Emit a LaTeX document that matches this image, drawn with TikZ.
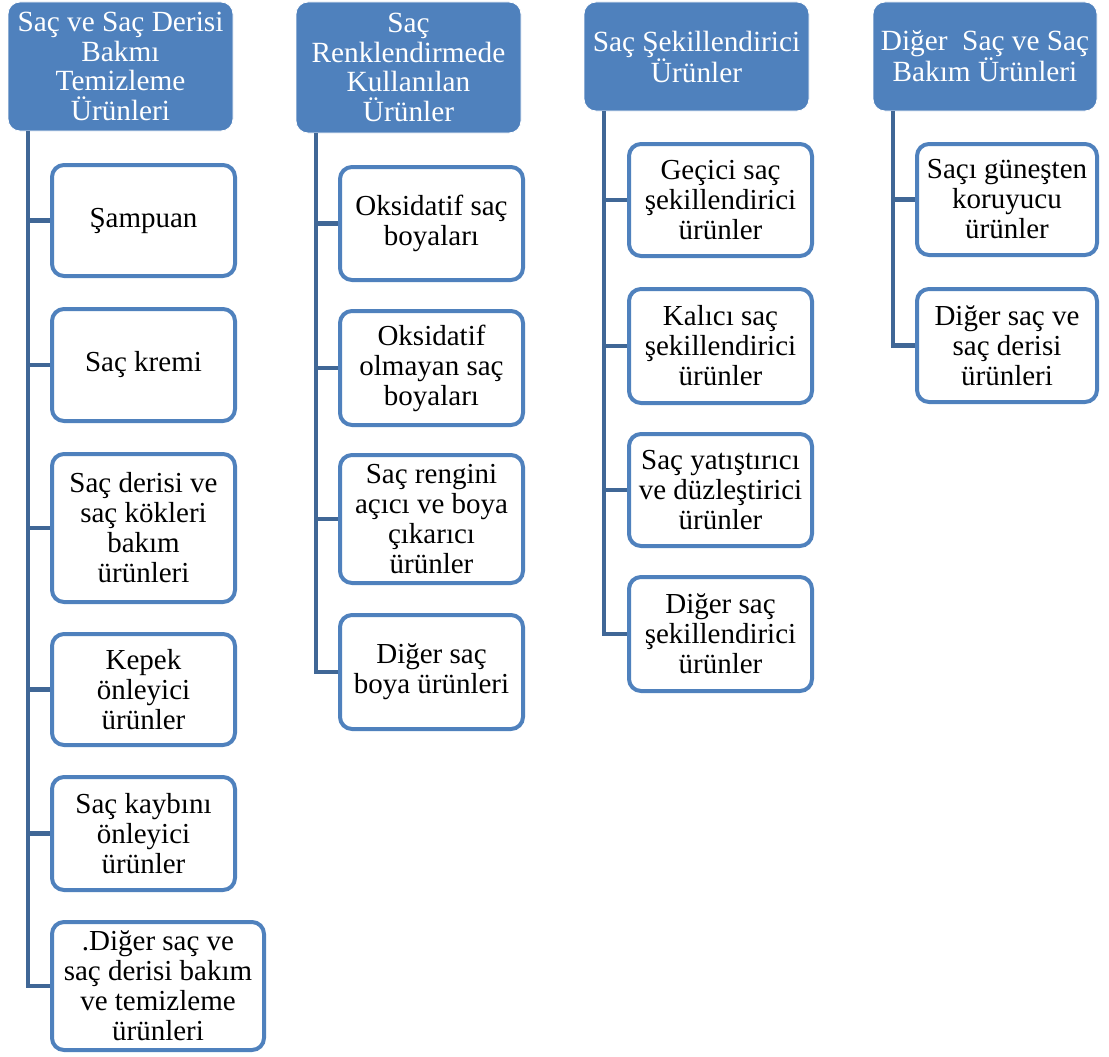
\documentclass[tikz,border=0pt]{standalone}
\usepackage{fontspec}
\setmainfont{Liberation Serif}
\definecolor{hdrblue}{RGB}{79,129,189}
\definecolor{bordblue}{RGB}{79,129,189}
\definecolor{connblue}{RGB}{64,103,150}
\tikzset{
  hdr/.style={draw=white, line width=0.8pt, fill=hdrblue, rounded corners=12pt,
    text=white, align=center, inner sep=0pt,
    font=\fontsize{29.3}{29.5}\selectfont},
  chbox/.style={draw=bordblue, line width=4pt, fill=white, rounded corners=12pt,
    text=black, align=center, inner sep=0pt,
    font=\fontsize{29}{30}\selectfont},
  conn/.style={draw=connblue, line width=4.5pt}
}
\begin{document}
\begin{tikzpicture}[x=1pt,y=1pt]
\useasboundingbox[fill=white] (0,0) rectangle (1109,-1057);

% connector roots (headers' lower left corners + 20pt)
\coordinate (t1) at (28,-131);
\coordinate (t2) at (316,-133);
\coordinate (t3) at (604,-111);
\coordinate (t4) at (893,-111);

% headers
\node[hdr, minimum width=225pt, minimum height=129pt] (h1) at (120.5,-66.5)
  {Saç ve Saç Derisi\\Bakmı\\Temizleme\\Ürünleri};
\node[hdr, minimum width=225pt, minimum height=131pt] (h2) at (408.5,-67.5)
  {Saç\\Renklendirmede\\Kullanılan\\Ürünler};
\node[hdr, minimum width=225pt, minimum height=109pt] (h3) at (696.5,-56.5)
  {Saç Şekillendirici\\Ürünler};
\node[hdr, minimum width=224pt, minimum height=109pt] (h4) at (985,-56.5)
  {Diğer\ \ Saç ve Saç\\Bakım Ürünleri};

% column 1
\node[chbox, minimum width=183pt, minimum height=111pt] (c11) at (143.5,-220.5) {Şampuan};
\node[chbox, minimum width=183pt, minimum height=112pt] (c12) at (143.5,-365) {Saç kremi};
\node[chbox, minimum width=183pt, minimum height=148pt] (c13) at (143.5,-528) {Saç derisi ve\\saç kökleri\\bakım\\ürünleri};
\node[chbox, minimum width=183pt, minimum height=111pt] (c14) at (143.5,-689.5) {Kepek\\önleyici\\ürünler};
\node[chbox, minimum width=183pt, minimum height=113pt] (c15) at (143.5,-833.5) {Saç kaybını\\önleyici\\ürünler};
\node[chbox, minimum width=212pt, minimum height=128pt] (c16) at (158,-986) {.Diğer saç ve\\saç derisi bakım\\ve temizleme\\ürünleri};

% column 2
\node[chbox, minimum width=183pt, minimum height=113pt] (c21) at (431.5,-223.5) {Oksidatif saç\\boyaları};
\node[chbox, minimum width=183pt, minimum height=114pt] (c22) at (431.5,-368) {Oksidatif\\olmayan saç\\boyaları};
\node[chbox, minimum width=183pt, minimum height=128pt] (c23) at (431.5,-519) {Saç rengini\\açıcı ve boya\\çıkarıcı\\ürünler};
\node[chbox, minimum width=183pt, minimum height=114pt] (c24) at (431.5,-672) {Diğer saç\\boya ürünleri};

% column 3
\node[chbox, minimum width=183pt, minimum height=112pt] (c31) at (720.5,-200) {Geçici saç\\şekillendirici\\ürünler};
\node[chbox, minimum width=183pt, minimum height=114pt] (c32) at (720.5,-346) {Kalıcı saç\\şekillendirici\\ürünler};
\node[chbox, minimum width=183pt, minimum height=112pt] (c33) at (720.5,-490) {Saç yatıştırıcı\\ve düzleştirici\\ürünler};
\node[chbox, minimum width=183pt, minimum height=114pt] (c34) at (720.5,-634) {Diğer saç\\şekillendirici\\ürünler};

% column 4
\node[chbox, minimum width=180pt, minimum height=111pt] (c41) at (1007,-199.5) {Saçı güneşten\\koruyucu\\ürünler};
\node[chbox, minimum width=180pt, minimum height=113pt] (c42) at (1007,-345.5) {Diğer saç ve\\saç derisi\\ürünleri};

% connectors
\draw[conn] (t1) |- (c16.west);
\foreach \c in {c11,c12,c13,c14,c15} \draw[conn] (t1 |- \c.west) -- (\c.west);
\draw[conn] (t2) |- (c24.west);
\foreach \c in {c21,c22,c23} \draw[conn] (t2 |- \c.west) -- (\c.west);
\draw[conn] (t3) |- (c34.west);
\foreach \c in {c31,c32,c33} \draw[conn] (t3 |- \c.west) -- (\c.west);
\draw[conn] (t4) |- (c42.west);
\draw[conn] (t4 |- c41.west) -- (c41.west);
\end{tikzpicture}
\end{document}
